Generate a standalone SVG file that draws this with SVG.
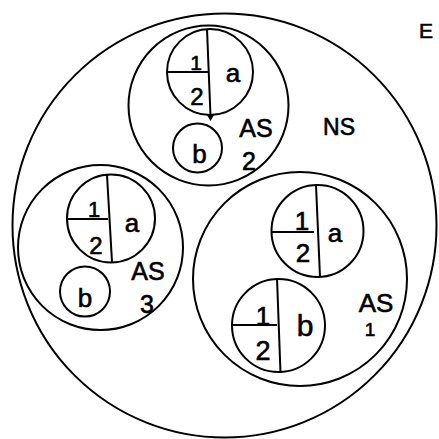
<svg xmlns="http://www.w3.org/2000/svg" width="439" height="439" viewBox="0 0 439 439">
<style>
.c{fill:none;stroke:#000;stroke-width:2}
.l{fill:none;stroke:#000;stroke-width:2}
text{font-family:"Liberation Sans",Arial,sans-serif;fill:#000;stroke:#000;stroke-width:0.6;text-anchor:middle}
.d{font-size:24px}
.s{font-size:26px}
.lab{font-size:25px}
</style>
<rect width="439" height="439" fill="#fff"/>
<g id="E">
<circle class="c" cx="224.5" cy="225.5" r="212"/>
<text class="lab" x="426" y="38" style="font-size:21px">E</text>
<text class="lab" x="339" y="135" style="font-size:23px">NS</text>
</g>
<g id="AS2">
<circle class="c" cx="208.5" cy="105.5" r="80"/>
<g id="AS2-a">
<circle class="c" cx="210" cy="72" r="43"/>
<path class="l" d="M207 29 L210.5 116 M167 72 L208 72"/>
<path d="M207 115 L214 115 L210.5 121 Z" fill="#000"/>
<text class="d" x="196" y="70" style="font-size:21px">1</text>
<text class="d" x="197" y="105">2</text>
<text class="s" x="233" y="82">a</text>
</g>
<g id="AS2-b">
<circle class="c" cx="197.5" cy="148" r="24.5"/>
<text class="s" x="199.5" y="163">b</text>
</g>
<text class="lab" x="256" y="137">AS</text>
<text class="lab" x="249" y="170">2</text>
</g>
<g id="AS3">
<circle class="c" cx="100.5" cy="247.5" r="82.5"/>
<g id="AS3-a">
<circle class="c" cx="111" cy="218.5" r="44"/>
<path class="l" d="M107 175 L112 262 M67 219 L108 219"/>
<text class="d" x="94" y="217" style="font-size:22px">1</text>
<text class="d" x="96" y="254">2</text>
<text class="s" x="132" y="232">a</text>
</g>
<g id="AS3-b">
<circle class="c" cx="85" cy="291.5" r="25"/>
<text class="s" x="85" y="307">b</text>
</g>
<text class="lab" x="148" y="280">AS</text>
<text class="lab" x="147" y="313">3</text>
</g>
<g id="AS1">
<circle class="c" cx="300" cy="279" r="107"/>
<g id="AS1-a">
<circle class="c" cx="317.5" cy="231" r="46"/>
<path class="l" d="M316 185 L320 277 M271 232 L314 232"/>
<text class="d" x="302" y="230" style="font-size:26px">1</text>
<text class="d" x="303" y="262" style="font-size:26px">2</text>
<text class="s" x="335" y="242">a</text>
</g>
<g id="AS1-b">
<circle class="c" cx="278.5" cy="325.5" r="46.5"/>
<path class="l" d="M277 278 L280.5 373 M232 325 L277 325"/>
<text class="d" x="263" y="325" style="font-size:26px">1</text>
<text class="d" x="263" y="360" style="font-size:27px">2</text>
<text class="s" x="305" y="336" style="font-size:30px">b</text>
</g>
<text class="lab" x="376" y="312" style="font-size:26px">AS</text>
<text class="lab" x="370" y="336" style="font-size:19px">1</text>
</g>
</svg>
